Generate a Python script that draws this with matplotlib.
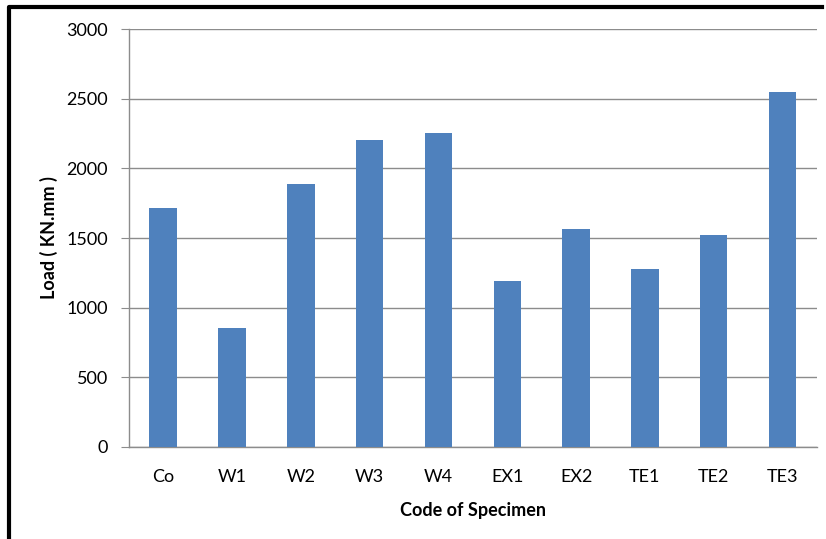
import matplotlib.pyplot as plt
from matplotlib.lines import Line2D

# ---------------------------------
# DATA
# ---------------------------------

specimens = ["Co", "W1", "W2", "W3", "W4", "EX1", "EX2", "TE1", "TE2", "TE3"]
loads = [1715, 855, 1890, 2205, 2255, 1195, 1565, 1278, 1522, 2550]
y_ticks = [0, 500, 1000, 1500, 2000, 2500, 3000]

# ---------------------------------
# CREATE GRAPH
# ---------------------------------

plt.rcParams["font.family"] = ["Lato", "DejaVu Sans"]

fig = plt.figure(figsize=(8.26, 5.39), dpi=100)
ax = fig.add_axes([0.156, 0.1707, 0.833, 0.7753])

x = range(len(specimens))
ax.bar(x, loads, width=0.4, color="#4F81BD", zorder=3)

ax.set_xlim(-0.5, len(specimens) - 0.5)
ax.set_ylim(0, 3000)
ax.set_yticks(y_ticks)
ax.set_xticks(list(x))
ax.set_xticklabels(specimens)

ax.yaxis.grid(True, color="#8c8c8c", linewidth=1, zorder=0)
ax.tick_params(axis="y", length=6, color="#8c8c8c", labelsize=13, pad=9)
ax.tick_params(axis="x", length=0, labelsize=13, pad=16)

for side in ["top", "right"]:
    ax.spines[side].set_visible(False)
for side in ["left", "bottom"]:
    ax.spines[side].set_color("#8c8c8c")
    ax.spines[side].set_linewidth(1)

ax.set_xlabel("Code of Specimen", fontsize=13, fontweight="bold", labelpad=12)
ax.set_ylabel("Load ( KN.mm )", fontsize=13, fontweight="bold", labelpad=6)

# black frame on the left and top
fig.add_artist(Line2D([9 / 826, 9 / 826, 822 / 826], [0, 1 - 7 / 539, 1 - 7 / 539],
                      color="black", linewidth=3, transform=fig.transFigure))

# ---------------------------------
# SAVE GRAPH
# ---------------------------------

plt.savefig("out.png", dpi=100)
